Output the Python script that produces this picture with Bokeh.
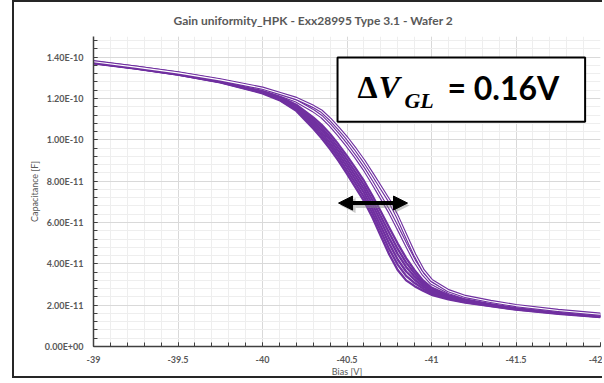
from bokeh.plotting import figure
from bokeh.models import Range1d, FixedTicker, BoxAnnotation, Label, Arrow, NormalHead
from bokeh.embed import file_html
from bokeh.resources import INLINE

# ---------------- data (capacitance in units of 1e-11 F) ----------------
BIAS = [-39, -39.25, -39.5, -39.75, -40, -40.1, -40.2, -40.3, -40.35, -40.4,
        -40.45, -40.5, -40.55, -40.6, -40.65, -40.7, -40.75, -40.8, -40.85,
        -40.9, -40.95, -41, -41.1, -41.2, -41.35, -41.5, -41.75, -42]

CAP_1 = [13.70, 13.45, 13.15, 12.78, 12.25, 11.92, 11.40, 10.55, 10.08, 9.55,
         8.98, 8.35, 7.70, 7.05, 6.25, 5.35, 4.45, 3.70, 3.20,
         2.92, 2.70, 2.50, 2.28, 2.12, 1.95, 1.78, 1.58, 1.42]
CAP_2 = [13.71, 13.46, 13.16, 12.79, 12.28, 11.95, 11.46, 10.66, 10.21, 9.70,
         9.14, 8.52, 7.89, 7.24, 6.46, 5.59, 4.71, 3.96, 3.42,
         3.07, 2.80, 2.57, 2.32, 2.15, 1.97, 1.80, 1.60, 1.43]
CAP_3 = [13.72, 13.46, 13.17, 12.80, 12.30, 11.99, 11.52, 10.76, 10.34, 9.84,
         9.29, 8.70, 8.07, 7.44, 6.67, 5.82, 4.97, 4.21, 3.63,
         3.23, 2.90, 2.64, 2.36, 2.18, 2.00, 1.82, 1.61, 1.45]
CAP_4 = [13.72, 13.47, 13.18, 12.82, 12.33, 12.02, 11.58, 10.87, 10.47, 9.99,
         9.45, 8.87, 8.26, 7.63, 6.88, 6.06, 5.23, 4.47, 3.85,
         3.38, 3.00, 2.71, 2.41, 2.21, 2.02, 1.84, 1.63, 1.46]
CAP_5 = [13.73, 13.48, 13.19, 12.83, 12.35, 12.05, 11.64, 10.98, 10.60, 10.13,
         9.61, 9.04, 8.44, 7.82, 7.09, 6.29, 5.49, 4.72, 4.06,
         3.53, 3.10, 2.78, 2.45, 2.24, 2.04, 1.86, 1.64, 1.48]
CAP_6 = [13.74, 13.49, 13.20, 12.84, 12.38, 12.09, 11.70, 11.09, 10.73, 10.28,
         9.77, 9.22, 8.63, 8.02, 7.30, 6.53, 5.75, 4.98, 4.28,
         3.69, 3.20, 2.85, 2.49, 2.27, 2.07, 1.88, 1.66, 1.49]
CAP_7 = [13.76, 13.51, 13.22, 12.88, 12.45, 12.18, 11.88, 11.41, 11.12, 10.71,
         10.24, 9.73, 9.18, 8.59, 7.93, 7.23, 6.53, 5.74, 4.92,
         4.14, 3.50, 3.06, 2.62, 2.36, 2.13, 1.94, 1.71, 1.53]
CAP_8 = [13.78, 13.52, 13.24, 12.90, 12.50, 12.25, 12.00, 11.62, 11.38, 11.00,
         10.55, 10.08, 9.55, 8.98, 8.35, 7.70, 7.05, 6.25, 5.35,
         4.45, 3.70, 3.20, 2.70, 2.42, 2.18, 1.98, 1.74, 1.56]

SOLID_CURVES = [CAP_1, CAP_2, CAP_3, CAP_4, CAP_5, CAP_6]
DOUBLE_CURVES = [CAP_7, CAP_8]

X_TICKS = [-39, -39.5, -40, -40.5, -41, -41.5, -42]
X_TICK_LABELS = ["-39", "-39.5", "-40", "-40.5", "-41", "-41.5", "-42"]
Y_TICKS = [0, 2, 4, 6, 8, 10, 12, 14]
Y_TICK_LABELS = ["0.00E+00", "2.00E-11", "4.00E-11", "6.00E-11", "8.00E-11",
                 "1.00E-10", "1.20E-10", "1.40E-10"]

TITLE = "Gain uniformity_HPK - Exx28995 Type 3.1 - Wafer 2"
X_LABEL = "Bias [V]"
Y_LABEL = "Capacitance [F]"
DELTA_LEFT, DELTA_RIGHT, DELTA_LEVEL = -40.450, -40.858, 6.94

# ---------------- styling ----------------
PURPLE = "#7030A0"
GREY_TXT = "#595959"
FONT = "Lato"
FRAME = "2px solid #262626"

x_minor = [round(-39 - 0.1 * i, 1) for i in range(31)]
y_minor = [round(0.4 * i, 1) for i in range(38)]

p = figure(width=590, height=378,
           x_range=Range1d(-39, -42), y_range=Range1d(0, 15),
           output_backend="svg", toolbar_location=None,
           min_border_left=79, min_border_right=4,
           min_border_top=31, min_border_bottom=34)
p.styles = {"margin-left": "12px", "border-left": FRAME,
            "border-top": FRAME, "border-bottom": FRAME}
p.background_fill_color = "white"
p.border_fill_color = "white"
p.outline_line_color = None

p.title.text = TITLE
p.title.text_font = FONT
p.title.text_font_size = "12px"
p.title.text_font_style = "bold"
p.title.text_color = GREY_TXT
p.title.align = "left"
p.title.offset = 80
p.title.standoff = 17

xt = FixedTicker(ticks=X_TICKS, minor_ticks=x_minor)
yt = FixedTicker(ticks=Y_TICKS, minor_ticks=y_minor)
p.xaxis.ticker = xt
p.yaxis.ticker = yt
p.xgrid.ticker = xt
p.ygrid.ticker = yt
p.xaxis.major_label_overrides = dict(zip(X_TICKS, X_TICK_LABELS))
p.yaxis.major_label_overrides = dict(zip(Y_TICKS, Y_TICK_LABELS))

for g in (p.xgrid, p.ygrid):
    g.grid_line_color = "#d9d9d9"
    g.grid_line_width = 1
    g.minor_grid_line_color = "#eeeeee"
    g.minor_grid_line_width = 1

for ax in (p.xaxis, p.yaxis):
    ax.axis_line_color = "#404040"
    ax.axis_line_width = 1.5
    ax.major_tick_line_color = "#404040"
    ax.minor_tick_line_color = "#404040"
    ax.major_tick_in = 4
    ax.major_tick_out = 0
    ax.minor_tick_in = 4
    ax.minor_tick_out = 0
    ax.major_label_text_font = FONT
    ax.major_label_text_font_size = "9px"
    ax.major_label_text_font_style = "bold"
    ax.major_label_text_color = GREY_TXT
    ax.axis_label_text_font = FONT
    ax.axis_label_text_font_size = "9px"
    ax.axis_label_text_font_style = "normal"
    ax.axis_label_text_color = GREY_TXT

p.xaxis.axis_label = X_LABEL
p.yaxis.axis_label = Y_LABEL
p.xaxis.major_label_standoff = 9
p.xaxis.axis_label_standoff = 0
p.yaxis.major_label_standoff = 10
p.yaxis.axis_label_standoff = 2

for cap in SOLID_CURVES:
    p.line(BIAS, cap, line_color=PURPLE, line_width=2.3)
for cap in DOUBLE_CURVES:
    p.line(BIAS, cap, line_color=PURPLE, line_width=3.4)
    p.line(BIAS, cap, line_color="white", line_width=1.1)

# annotation box with delta V text
box = BoxAnnotation(left=-40.444, right=-41.909, top=13.98, bottom=10.88,
                    fill_color="white", fill_alpha=1.0,
                    line_color="black", line_width=2, line_alpha=1.0)
p.add_layout(box)

p.add_layout(Label(x=-40.562, y=12.55, text="Δ", text_font="Liberation Serif",
                   text_font_size="32px", text_font_style="bold", text_color="black",
                   text_baseline="middle"))
p.add_layout(Label(x=-40.686, y=12.55, text="V", text_font="Liberation Serif",
                   text_font_size="32px", text_font_style="bold italic", text_color="black",
                   text_baseline="middle"))
p.add_layout(Label(x=-40.840, y=11.9, text="GL", text_font="Liberation Serif",
                   text_font_size="22px", text_font_style="bold italic", text_color="black",
                   text_baseline="middle"))
p.add_layout(Label(x=-41.094, y=12.55, text="= 0.16V", text_font=FONT,
                   text_font_size="32px", text_font_style="bold", text_color="black",
                   text_baseline="middle"))

# double arrow with soft shadow
p.add_layout(Arrow(x_start=DELTA_LEFT - 0.012, y_start=DELTA_LEVEL - 0.12,
                   x_end=DELTA_RIGHT - 0.012, y_end=DELTA_LEVEL - 0.12,
                   line_color="#888888", line_alpha=0.45, line_width=5,
                   start=NormalHead(size=15, fill_color="#888888", fill_alpha=0.45, line_color=None),
                   end=NormalHead(size=15, fill_color="#888888", fill_alpha=0.45, line_color=None)))
p.add_layout(Arrow(x_start=DELTA_LEFT, y_start=DELTA_LEVEL,
                   x_end=DELTA_RIGHT, y_end=DELTA_LEVEL,
                   line_color="black", line_width=4,
                   start=NormalHead(size=14, fill_color="black", line_color="black"),
                   end=NormalHead(size=14, fill_color="black", line_color="black")))

open("out.html", "w").write(file_html(p, INLINE))
